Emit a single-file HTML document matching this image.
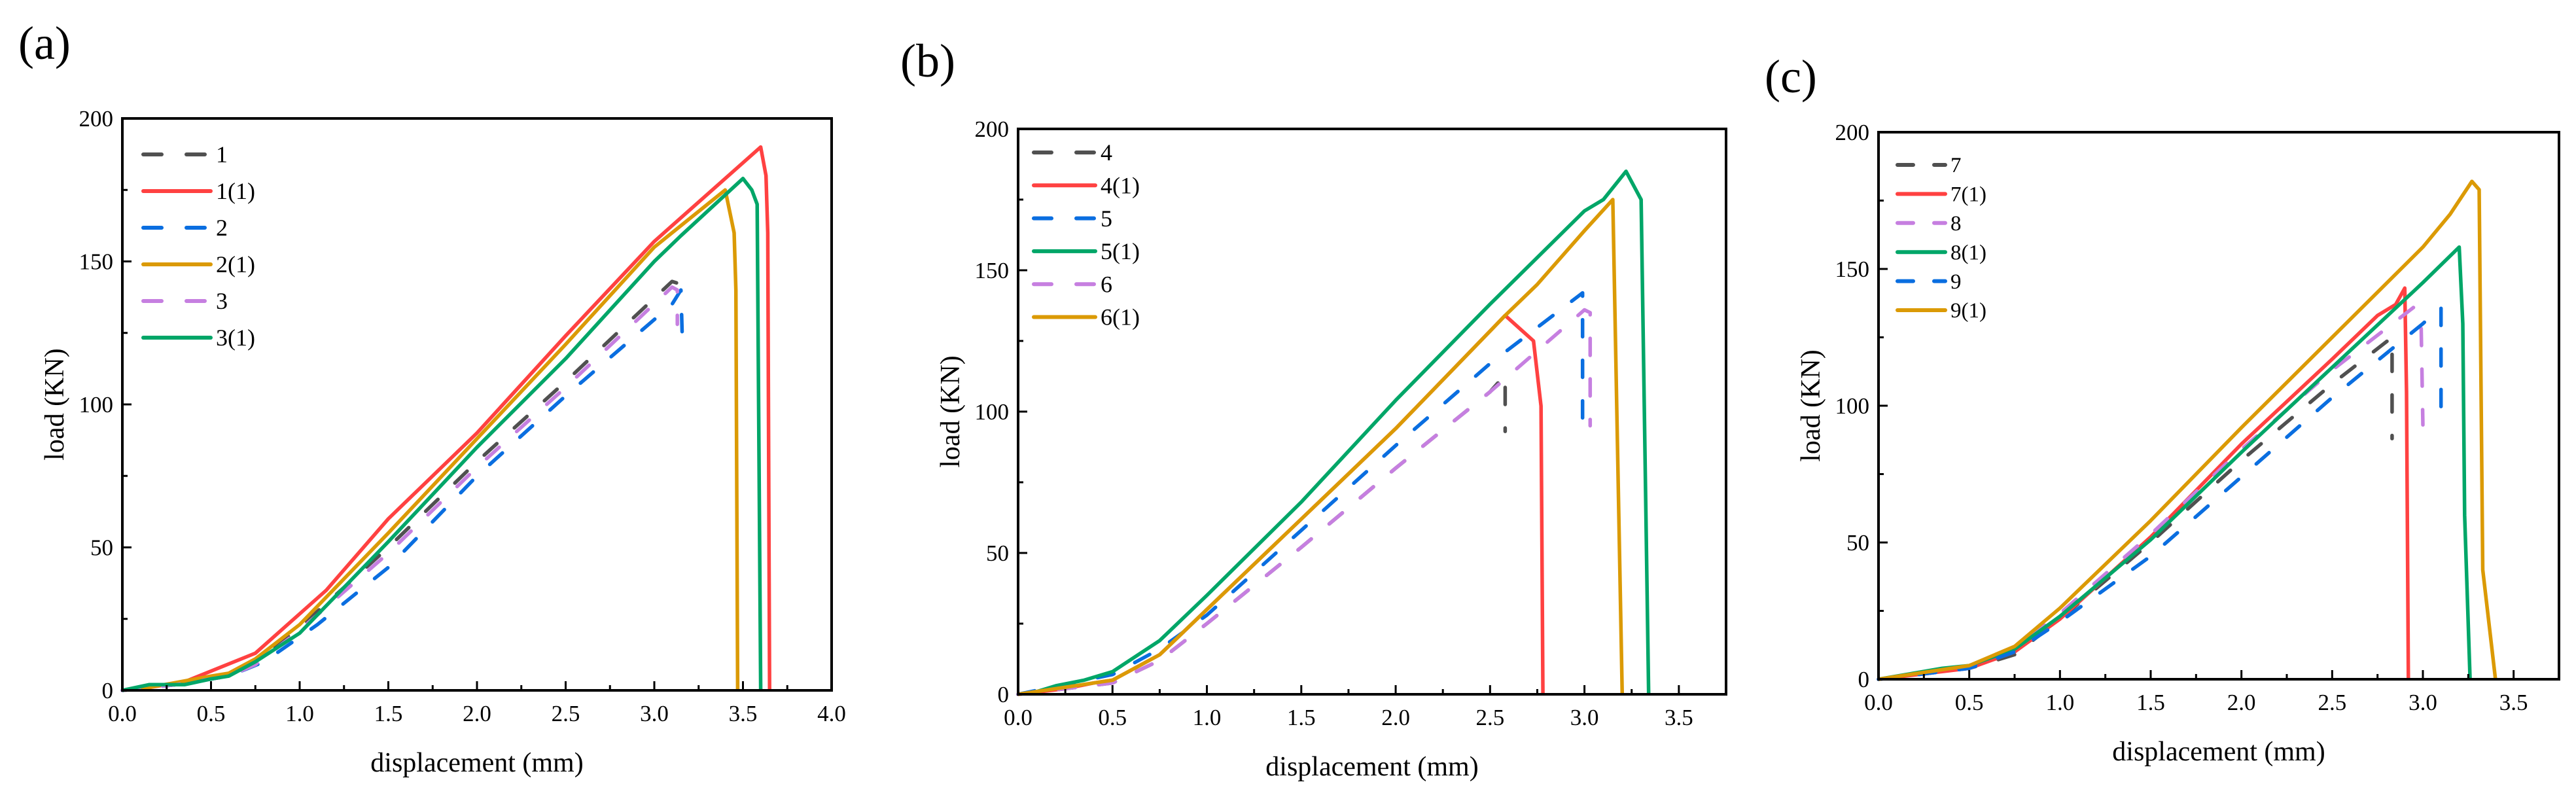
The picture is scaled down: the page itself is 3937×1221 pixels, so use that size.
<!DOCTYPE html>
<html><head><meta charset="utf-8">
<style>
html,body{margin:0;padding:0;background:#fff;overflow:hidden;}
svg{display:block;}
text{font-family:"Liberation Serif",serif;fill:#000;}
</style></head>
<body>
<svg id="fig" width="3937" height="1221" viewBox="0 0 3937 1221" xmlns="http://www.w3.org/2000/svg"></svg>
<script>
// ---------- Panel (a) data ----------
const aNames = ["1","1(1)","2","2(1)","3","3(1)"];
const a1x = [0,0.3,0.6,0.75,1,1.5,2,2.5,3.1,3.15];
const a1y = [0,2,5,10,22,50,80,108,143,142];
const a11x = [0,0.15,0.35,0.75,1.15,1.5,2,2.5,3.0,3.6,3.63,3.64,3.65];
const a11y = [0,1,3,13,35,60,90,124,157,190,180,160,0];
const a2x = [0,0.3,0.6,0.8,1.1,1.5,2,2.5,3.1,3.15,3.16];
const a2y = [0,2,5,10,23,43,75,103,135,140,118];
const a21x = [0,0.15,0.5,0.6,0.75,1,1.5,2,2.5,3.0,3.4,3.45,3.46,3.47];
const a21y = [0,1,5,6,11,23,55,88,121,155,175,160,140,0];
const a3x = [0,0.3,0.6,0.75,1,1.5,2,2.5,3.1,3.13,3.13];
const a3y = [0,2,5,9,21,48,78,106,141,140,128];
const a31x = [0,0.15,0.35,0.5,0.6,0.75,1,1.5,2,2.5,3.0,3.15,3.5,3.55,3.58,3.6];
const a31y = [0,2,2,4,5,10,20,52,85,116,150,159,179,175,170,0];
// ---------- Panel (b) data ----------
const bNames = ["4","4(1)","5","5(1)","6","6(1)"];
const b4x = [0,0.5,0.75,1,1.5,2,2.5,2.58,2.58];
const b4y = [0,4,12,25,52,80,107,113,93];
const b41x = [0,0.25,0.4,0.5,0.75,1,1.5,2,2.58,2.73,2.77,2.78];
const b41y = [0,2,4,5,14,30,62,94,134,125,102,0];
const b5x = [0,0.5,0.75,1,1.5,2,2.5,2.99,2.99];
const b5y = [0,7,16,28,58,88,117,142,92];
const b51x = [0,0.1,0.2,0.35,0.5,0.75,1,1.5,2,2.5,3.0,3.1,3.22,3.3,3.34];
const b51y = [0,1,3,5,8,19,35,68,104,138,171,175,185,175,0];
const b6x = [0,0.5,0.75,1,1.5,2,2.5,3.0,3.03,3.03];
const b6y = [0,4,12,25,52,80,107,136,135,95];
const b61x = [0,0.5,0.75,1,1.5,2,2.58,2.75,3.0,3.15,3.2];
const b61y = [0,5,14,30,62,94,134,145,164,175,0];
// ---------- Panel (c) data ----------
const cNames = ["7","7(1)","8","8(1)","9","9(1)"];
const c7x = [0,0.5,0.75,1,1.5,2,2.5,2.83,2.83];
const c7y = [0,4,9,22,50,80,108,125,88];
const c71x = [0,0.5,0.75,1,1.5,2,2.5,2.75,2.85,2.9,2.91,2.92];
const c71y = [0,4,10,22,52,86,117,133,137,143,105,0];
const c8x = [0,0.5,0.75,1,1.5,2,2.5,2.95,2.99,3.0];
const c8y = [0,4,11,24,53,84,113,136,131,93];
const c81x = [0,0.35,0.5,0.75,1,1.5,2,2.5,3.0,3.2,3.22,3.23,3.26];
const c81y = [0,4,5,11,23,51,83,114,145,158,130,60,0];
const c9x = [0,0.5,0.75,1,1.5,2,2.5,3.0,3.1,3.1];
const c9y = [0,4,10,21,45,74,103,130,136,98];
const c91x = [0,0.5,0.75,1,1.5,2,2.5,3.0,3.15,3.27,3.31,3.33,3.4];
const c91y = [0,5,12,26,58,92,125,158,170,182,179,40,0];
// tick labels
const xTicksA = ["0.0","0.5","1.0","1.5","2.0","2.5","3.0","3.5","4.0"];
const xTicksBC = ["0.0","0.5","1.0","1.5","2.0","2.5","3.0","3.5"];
const yTicks = ["0","50","100","150","200"];

const C = {gray:"#505050",red:"#ff4141",blue:"#0a6ee0",orange:"#db9a05",purple:"#c67fe0",green:"#00a668"};
const NS="http://www.w3.org/2000/svg";
const svg=document.getElementById('fig');
function mk(tag,attrs,parent){const e=document.createElementNS(NS,tag);for(const k in attrs)e.setAttribute(k,attrs[k]);(parent||svg).appendChild(e);return e;}

function panel(cfg){
  const g=mk('g',{});
  
  
  const L=cfg.L,R=cfg.R,T=cfg.T,B=cfg.B;
  const sx=v=>L+(v/cfg.xmax)*(R-L);
  const sy=v=>B-(v/200)*(B-T);
  const pl=mk('text',{x:cfg.lx,y:cfg.ly,'font-size':72},g);pl.textContent='('+cfg.id+')';
  
  
  cfg.series.forEach((s,i)=>{
    const pts=s.x.map((v,j)=>sx(v).toFixed(1)+','+sy(s.y[j]).toFixed(1)).join(' ');
    const p=mk('polyline',{points:pts,fill:'none',stroke:s.c,'stroke-width':5.5,'stroke-linejoin':'round','stroke-linecap':s.d?'round':'butt'},g);
    if(s.d)p.setAttribute('stroke-dasharray','26 36');
    
    
  });
  const fr=mk('rect',{x:L,y:T,width:R-L,height:B-T,fill:'none',stroke:'#000','stroke-width':4},g);
  
  
  for(let v=0;v<=cfg.xmax+1e-9;v+=0.25){
    const X=sx(v);const major=Math.abs(v*2-Math.round(v*2))<1e-6;
    mk('line',{x1:X,x2:X,y1:B,y2:B-(major?14:8),stroke:'#000','stroke-width':3},g);
  }
  cfg.xt.forEach(t=>{
    const tx=mk('text',{x:sx(parseFloat(t)),y:B+47,'font-size':cfg.fs,'text-anchor':'middle'},g);tx.textContent=t;
    
    
  });
  for(let v=0;v<=200;v+=25){
    const Y=sy(v);const major=v%50===0;
    mk('line',{x1:L,x2:L+(major?14:8),y1:Y,y2:Y,stroke:'#000','stroke-width':3},g);
  }
  yTicks.forEach(t=>{
    const ty=mk('text',{x:L-14,y:sy(parseFloat(t))+12,'font-size':cfg.fs,'text-anchor':'end'},g);ty.textContent=t;
    
    
  });
  const xt=mk('text',{x:(L+R)/2,y:B+124,'font-size':42,'text-anchor':'middle'},g);xt.textContent='displacement (mm)';
  
  
  const yx=L-90,yy=(T+B)/2;
  const yt=mk('text',{x:yx,y:yy,'font-size':42,'text-anchor':'middle',transform:'rotate(-90 '+yx+' '+yy+')'},g);yt.textContent='load (KN)';
  
  
  cfg.series.forEach((s,i)=>{
    const Y=cfg.leg.y0+i*cfg.leg.dy;
    const ln=mk('line',{x1:cfg.leg.x1,x2:cfg.leg.x2,y1:Y,y2:Y,stroke:s.c,'stroke-width':6,'stroke-linecap':'round'},g);
    if(s.d)ln.setAttribute('stroke-dasharray',cfg.leg.dash);
    
    
    const lt=mk('text',{x:cfg.leg.x2+8,y:Y+cfg.leg.fs*0.34,'font-size':cfg.leg.fs},g);lt.textContent=cfg.names[i];
    
    
  });
}

panel({id:'a',L:187,R:1271,T:181,B:1055,xmax:4,xt:xTicksA,lx:28,ly:90,names:aNames,fs:35,
  leg:{x1:219,x2:322,y0:236,dy:56,fs:36,dash:'28 38'},
  series:[{x:a1x,y:a1y,c:C.gray,d:1},{x:a11x,y:a11y,c:C.red},{x:a2x,y:a2y,c:C.blue,d:1},{x:a21x,y:a21y,c:C.orange},{x:a3x,y:a3y,c:C.purple,d:1},{x:a31x,y:a31y,c:C.green}]});
panel({id:'b',L:1556,R:2638,T:197,B:1061,xmax:3.75,xt:xTicksBC,lx:1376,ly:117,names:bNames,fs:35,
  leg:{x1:1580,x2:1674,y0:233,dy:50.3,fs:36,dash:'27 38'},
  series:[{x:b4x,y:b4y,c:C.gray,d:1},{x:b41x,y:b41y,c:C.red},{x:b5x,y:b5y,c:C.blue,d:1},{x:b51x,y:b51y,c:C.green},{x:b6x,y:b6y,c:C.purple,d:1},{x:b61x,y:b61y,c:C.orange}]});
panel({id:'c',L:2871,R:3911,T:202,B:1038,xmax:3.75,xt:xTicksBC,lx:2697,ly:141,names:cNames,fs:35,
  leg:{x1:2900,x2:2973,y0:252,dy:44.4,fs:33,dash:'24 32'},
  series:[{x:c7x,y:c7y,c:C.gray,d:1},{x:c71x,y:c71y,c:C.red},{x:c8x,y:c8y,c:C.purple,d:1},{x:c81x,y:c81y,c:C.green},{x:c9x,y:c9y,c:C.blue,d:1},{x:c91x,y:c91y,c:C.orange}]});
</script>
</body></html>
